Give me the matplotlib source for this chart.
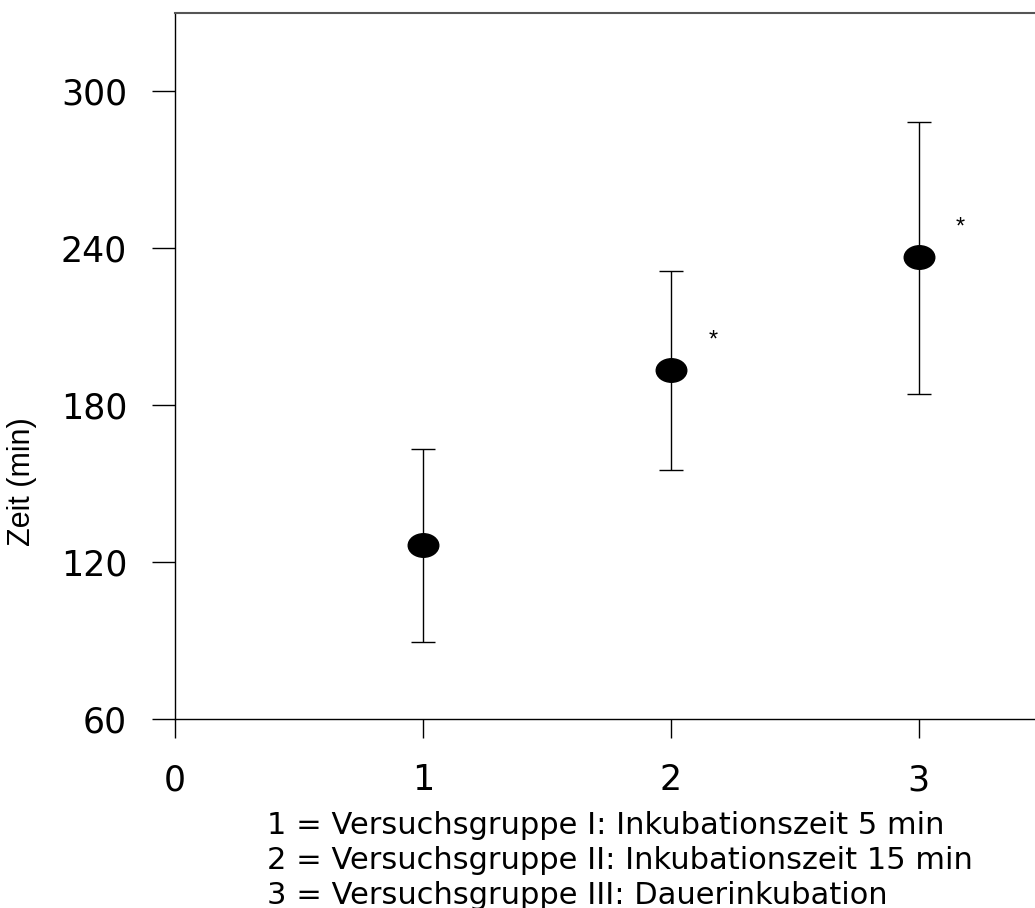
import matplotlib
matplotlib.use("Agg")
import matplotlib.pyplot as plt
from matplotlib.path import Path
from matplotlib.transforms import Affine2D

plt.rcParams['font.family'] = ['Liberation Sans', 'DejaVu Sans']

# Daten
gruppen = [1, 2, 3]
mittelwerte = [126.5, 193.4, 236.7]
untere_grenze = [89.5, 155.1, 184.4]
obere_grenze = [163.2, 231.2, 288.5]
signifikant = [False, True, True]

x_ticks = [0, 1, 2, 3]
y_ticks = [60, 120, 180, 240, 300]

legende = [
    "1 = Versuchsgruppe I: Inkubationszeit 5 min",
    "2 = Versuchsgruppe II: Inkubationszeit 15 min",
    "3 = Versuchsgruppe III: Dauerinkubation",
]

# breite Schrift, damit die gesperrten Texte ungefaehr passen
breit = 'DejaVu Sans'

fig = plt.figure(figsize=(10.35, 9.08), dpi=100)
ax = fig.add_axes([175 / 1035, 1 - 719 / 908, 1 - 175 / 1035, (719 - 13) / 908])

# elliptischer Marker
ellipse = Path.unit_circle().transformed(Affine2D().scale(1.0, 0.77))

err_lo = [m - u for m, u in zip(mittelwerte, untere_grenze)]
err_hi = [o - m for m, o in zip(mittelwerte, obere_grenze)]

ax.errorbar(gruppen, mittelwerte, yerr=[err_lo, err_hi], fmt='none',
            ecolor='black', elinewidth=1.0, capsize=8.3, capthick=1.0)
ax.plot(gruppen, mittelwerte, linestyle='none', marker=ellipse,
        markersize=22, color='black', zorder=3)

for g, o, s in zip(gruppen, mittelwerte, signifikant):
    if s:
        ax.annotate('*', xy=(g, o), xytext=(27, 21), textcoords='offset points',
                    ha='left', va='center', fontsize=17)

ax.set_xlim(0, 3.47)
ax.set_ylim(60, 330)
ax.set_xticks(x_ticks)
ax.set_yticks(y_ticks)
ax.tick_params(axis='x', direction='out', length=14, width=1.0, pad=18,
               labelsize=25)
ax.tick_params(axis='y', direction='out', length=16.5, width=1.0, pad=18,
               labelsize=25)
for lab in ax.get_xticklabels() + ax.get_yticklabels():
    lab.set_fontfamily(breit)

ax.spines['right'].set_visible(False)
ax.spines['top'].set_color('#555555')
ax.spines['top'].set_linewidth(1.5)
ax.spines['left'].set_linewidth(1.0)
ax.spines['bottom'].set_linewidth(1.0)

fig.text(22 / 1035, 1 - 482 / 908, 'Zeit (min)', rotation=90,
         ha='center', va='center', fontsize=22)

for i, zeile in enumerate(legende):
    fig.text(267 / 1035, 1 - (834 + 35 * i) / 908, zeile,
             ha='left', va='baseline', fontsize=22, family=breit)

fig.savefig('out.png', dpi=100)
